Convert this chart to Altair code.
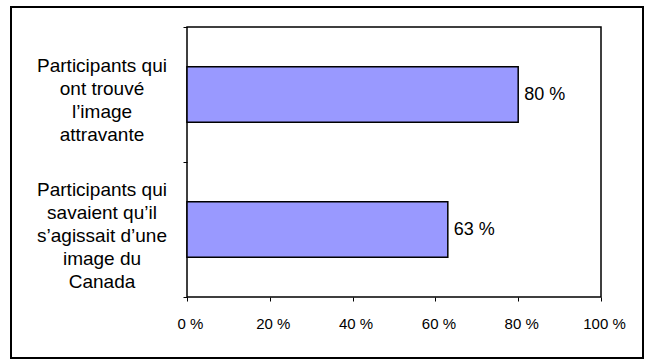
import altair as alt
import pandas as pd

# Category labels, pre-wrapped with "|" as the line separator
categories = [
    "Participants qui|ont trouvé|l’image|attravante",
    "Participants qui|savaient qu’il|s’agissait d’une|image du|Canada",
]
values = [80, 63]
x_ticks = [0, 20, 40, 60, 80, 100]

df = pd.DataFrame({"categorie": categories, "pourcentage": values})
df["etiquette"] = df["pourcentage"].astype(str) + " %"

FONT = "Liberation Sans"

x_enc = alt.X(
    "pourcentage:Q",
    title=None,
    scale=alt.Scale(domain=[0, 100], nice=False),
    axis=alt.Axis(
        values=x_ticks,
        labelExpr="datum.label + ' %'",
        labelFlush=False,
        grid=False,
        domain=False,
        tickSize=4,
        tickColor="black",
        tickWidth=1,
        labelPadding=15,
        labelOffset=3,
        labelFont=FONT,
        labelFontSize=15,
        labelColor="black",
    ),
)

# Ticks sit on the band boundaries; category names are drawn as text marks
y_enc = alt.Y(
    "categorie:N",
    sort=categories,
    title=None,
    scale=alt.Scale(paddingInner=0, paddingOuter=0),
    axis=alt.Axis(
        labels=False,
        tickBand="extent",
        tickSize=4,
        tickColor="black",
        tickWidth=1,
        domain=False,
    ),
)

base = alt.Chart(df)

bars = base.mark_bar(
    height={"band": 0.41},
    color="#9999FF",
    stroke="black",
    strokeWidth=1.5,
).encode(x=x_enc, y=y_enc)

values_text = base.mark_text(
    align="left",
    baseline="middle",
    dx=6,
    font=FONT,
    fontSize=18,
    color="black",
).encode(x=x_enc, y=y_enc, text="etiquette:N")


def category_label(name, dy):
    """Multi-line category name, centred left of the plot on its band."""
    return (
        base.transform_filter(alt.datum.categorie == name)
        .mark_text(
            align="center",
            baseline="middle",
            lineBreak="|",
            lineHeight=23,
            dy=dy,
            font=FONT,
            fontSize=19,
            color="black",
        )
        .encode(x=alt.value(-85), y=y_enc, text="categorie:N")
    )


# Multi-line text starts at the band centre, so each block is lifted
# according to its number of lines.
cat_labels = [
    category_label(categories[0], -29),
    category_label(categories[1], -40),
]

# Outer border around the whole figure
border = alt.Chart(pd.DataFrame({"k": [0]})).mark_rect(
    fill="transparent",
    stroke="black",
    strokeWidth=2,
).encode(
    x=alt.value(-176),
    x2=alt.value(456),
    y=alt.value(-20),
    y2=alt.value(331),
)

chart = (
    alt.layer(bars, values_text, *cat_labels, border)
    .properties(
        width=414,
        height=270,
        autosize=alt.AutoSizeParams(type="none"),
        padding={"left": 187, "top": 27, "right": 44, "bottom": 62},
        background="white",
    )
    .configure_view(stroke="black", strokeWidth=1.5)
)

chart.save("out.html", embed_options={"renderer": "svg", "actions": False})
